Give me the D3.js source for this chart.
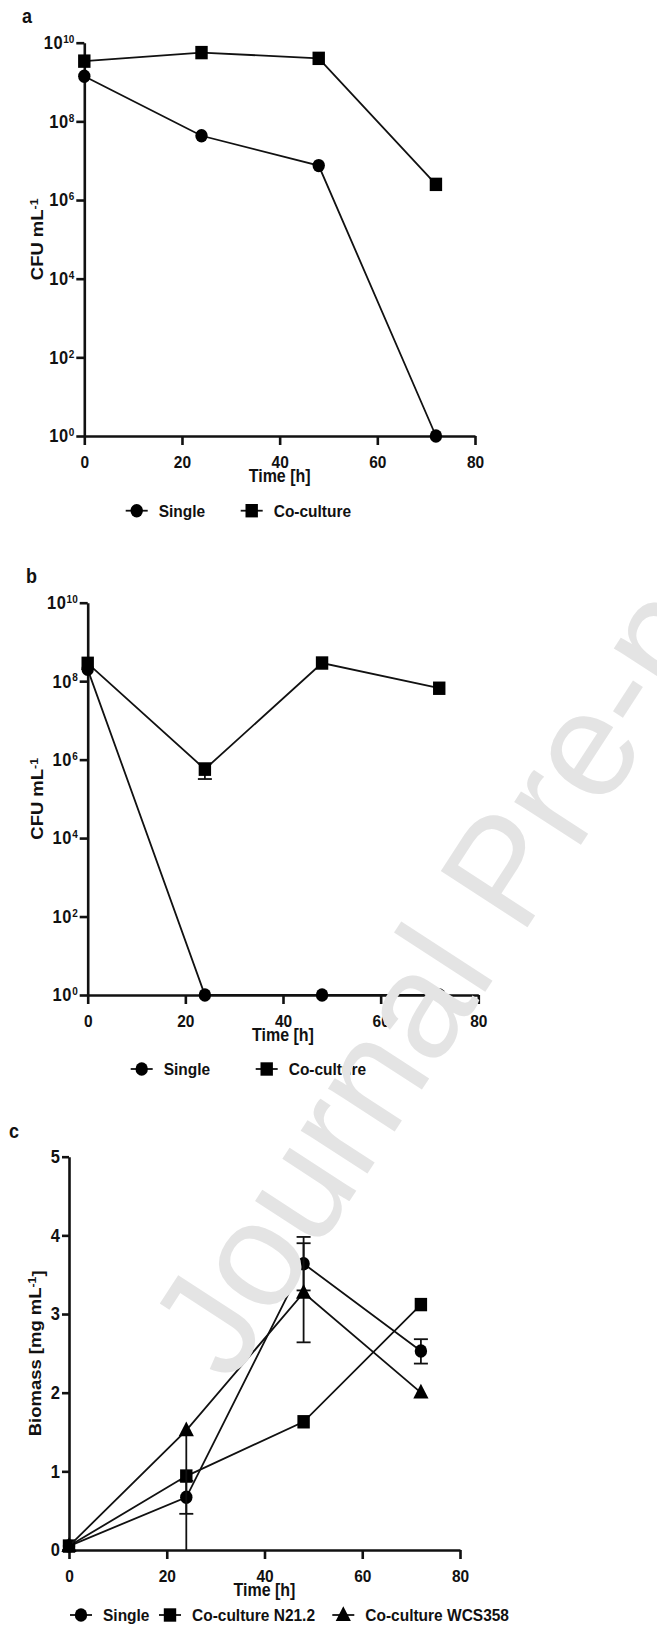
<!DOCTYPE html>
<html>
<head>
<meta charset="utf-8">
<script src="https://cdn.jsdelivr.net/npm/d3@7"></script>
<style>
  body { margin: 0; background: #fff; }
  svg { display: block; }
  text { font-family: "Liberation Sans", Arial, sans-serif; font-weight: bold; fill: #111; }
</style>
</head>
<body>
<svg id="chart" width="657" height="1632"></svg>
<script>
// sampling times (h)
const times = [0, 24, 48, 72];

// panel a, CFU mL-1
const aSingle = [1.4e9, 4.3e7, 7.5e6, 1];
const aCoculture = [3.4e9, 5.6e9, 4.0e9, 2.5e6];

// panel b, CFU mL-1
const bSingle = [2.0e8, 1, 1, 1];
const bCoculture = [2.85e8, 5.7e5, 2.9e8, 6.6e7];
const bCocultureLo = [2.85e8, 3.2e5, 2.9e8, 6.6e7];
const bCocultureHi = [2.85e8, 8.0e5, 2.9e8, 6.6e7];

// panel c, biomass mg mL-1
const cSingle = [0.05, 0.67, 3.64, 2.53];
const cSingleLo = [0.05, 0.46, 3.30, 2.37];
const cSingleHi = [0.05, 0.88, 3.98, 2.68];
const cN212 = [0.05, 0.94, 1.63, 3.12];
const cWCS358 = [0.05, 1.52, 3.27, 2.0];
const cWCS358Lo = [0.05, 0.0, 2.64, 2.0];
const cWCS358Hi = [0.05, 1.52, 3.90, 2.0];

const logTicks = [1, 1e2, 1e4, 1e6, 1e8, 1e10];
const linTicks = [0, 1, 2, 3, 4, 5];
const xTicks = [0, 20, 40, 60, 80];

const svg = d3.select("#chart");
const SY = 1.12; // the original figure is a bit stretched vertically

function addText(g, x, y, str, size, anchor, rot) {
  return g.append("text")
    .attr("transform", `translate(${x},${y}) scale(1,${SY})` + (rot ? ` rotate(${rot})` : ""))
    .attr("text-anchor", anchor || "start")
    .style("font-size", size + "px")
    .text(str);
}

function marker(g, shape, x, y) {
  if (shape == "circle") {
    g.append("ellipse").attr("cx", x).attr("cy", y).attr("rx", 6.2).attr("ry", 6.7).attr("fill", "#000");
  } else if (shape == "square") {
    g.append("rect").attr("x", x - 6.2).attr("y", y - 6.7).attr("width", 12.4).attr("height", 13.4).attr("fill", "#000");
  } else {
    g.append("path").attr("d", d3.symbol(d3.symbolTriangle, 100)()).attr("transform", `translate(${x},${y + 1}) scale(1,${SY})`).attr("fill", "#000");
  }
}

function drawPanel(p) {
  const g = svg.append("g");
  const x = d3.scaleLinear().domain([0, 80]).range(p.xRange);
  const y = p.log
    ? d3.scaleLog().domain([1, 1e10]).range(p.yRange)
    : d3.scaleLinear().domain([0, 5]).range(p.yRange);

  addText(g, p.label[1], p.label[2], p.label[0], 18);

  // axes
  const yAxis = g.append("g").attr("transform", `translate(${p.xRange[0]},0)`)
    .call(d3.axisLeft(y).tickValues(p.log ? logTicks : linTicks).tickFormat(d3.format("d"))
      .tickSize(p.log ? 8 : 7).tickPadding(2).tickSizeOuter(0));
  const xAxis = g.append("g").attr("transform", `translate(0,${p.yRange[0]})`)
    .call(d3.axisBottom(x).tickValues(xTicks).tickSize(9).tickPadding(9).tickSizeOuter(0));
  [yAxis, xAxis].forEach(a => {
    a.select(".domain").attr("stroke", "#111").attr("stroke-width", 2.6);
    a.selectAll(".tick line").attr("stroke", "#111").attr("stroke-width", 2.6);
    a.selectAll(".tick text").attr("fill", "#111").attr("font-family", null).attr("transform", `scale(1,${SY})`);
  });
  xAxis.selectAll(".tick text").style("font-size", "15.5px");
  yAxis.selectAll(".tick text").style("font-size", "16.5px");
  if (p.log) {
    yAxis.selectAll(".tick text").each(function (d) {
      const t = d3.select(this).text(null);
      t.append("tspan").style("letter-spacing", "0.6px").text("10");
      t.append("tspan").attr("dy", "-0.55em").style("font-size", "10px").text(Math.round(Math.log10(d)));
    });
  }

  // axis titles
  addText(g, x(40), p.yRange[0] + 46, "Time [h]", 16, "middle");
  const yt = addText(g, p.yTitleX, (p.yRange[0] + p.yRange[1]) / 2, null, 16.5, "middle", -90);
  yt.append("tspan").text(p.yTitle[0]);
  yt.append("tspan").attr("dy", "-0.5em").style("font-size", "11px").text("-1");
  if (p.yTitle[1]) yt.append("tspan").attr("dy", "0.5em").text(p.yTitle[1]);

  const line = d3.line().x((d, i) => x(times[i])).y(d => y(d));

  p.series.forEach(s => {
    g.append("path").datum(s.values).attr("d", line)
      .attr("fill", "none").attr("stroke", "#111").attr("stroke-width", 1.8);
    if (s.lo) {
      s.values.forEach((v, i) => {
        if (s.lo[i] == s.hi[i]) return;
        const xi = x(times[i]);
        g.append("line").attr("x1", xi).attr("x2", xi).attr("y1", y(Math.max(s.lo[i], p.log ? 1 : 0))).attr("y2", y(s.hi[i]))
          .attr("stroke", "#111").attr("stroke-width", 1.8);
        [s.lo[i], s.hi[i]].forEach(e => {
          if (e == v || e <= (p.log ? 1 : 0)) return;
          g.append("line").attr("x1", xi - 7).attr("x2", xi + 7).attr("y1", y(e)).attr("y2", y(e))
            .attr("stroke", "#111").attr("stroke-width", 1.8);
        });
      });
    }
    s.values.forEach((v, i) => marker(g, s.shape, x(times[i]), y(v)));
  });

  // legend
  p.legend.forEach(l => {
    const s = p.series[l.i];
    g.append("line").attr("x1", l.x - 11).attr("x2", l.x + 11).attr("y1", p.legendY).attr("y2", p.legendY)
      .attr("stroke", "#111").attr("stroke-width", 1.8);
    marker(g, s.shape, l.x, p.legendY);
    addText(g, l.x + 22, p.legendY + 6.2, s.name, 15.5);
  });
}

drawPanel({
  label: ["a", 22, 23], log: true,
  xRange: [84.3, 475], yRange: [436, 42.7], yTitleX: 43, yTitle: ["CFU mL"],
  series: [
    { name: "Single", shape: "circle", values: aSingle },
    { name: "Co-culture", shape: "square", values: aCoculture }
  ],
  legendY: 510.7, legend: [{ i: 0, x: 136.7 }, { i: 1, x: 251.7 }]
});

drawPanel({
  label: ["b", 26, 583], log: true,
  xRange: [87.7, 478.3], yRange: [995, 602.7], yTitleX: 43, yTitle: ["CFU mL"],
  series: [
    { name: "Single", shape: "circle", values: bSingle },
    { name: "Co-culture", shape: "square", values: bCoculture, lo: bCocultureLo, hi: bCocultureHi }
  ],
  legendY: 1069, legend: [{ i: 0, x: 141.7 }, { i: 1, x: 266.7 }]
});

drawPanel({
  label: ["c", 9, 1138], log: false,
  xRange: [69, 460], yRange: [1550, 1156.7], yTitleX: 41, yTitle: ["Biomass [mg mL", "]"],
  series: [
    { name: "Single", shape: "circle", values: cSingle, lo: cSingleLo, hi: cSingleHi },
    { name: "Co-culture N21.2", shape: "square", values: cN212 },
    { name: "Co-culture WCS358", shape: "triangle", values: cWCS358, lo: cWCS358Lo, hi: cWCS358Hi }
  ],
  legendY: 1615, legend: [{ i: 0, x: 81 }, { i: 1, x: 170 }, { i: 2, x: 343.3 }]
});

// watermark, drawn over the chart
svg.append("text").attr("transform", "translate(230,1385) rotate(-57)")
  .style("font-size", "150px").style("font-weight", "normal").style("fill", "#e4e4e4")
  .text("Journal Pre-proof");
</script>
</body>
</html>
